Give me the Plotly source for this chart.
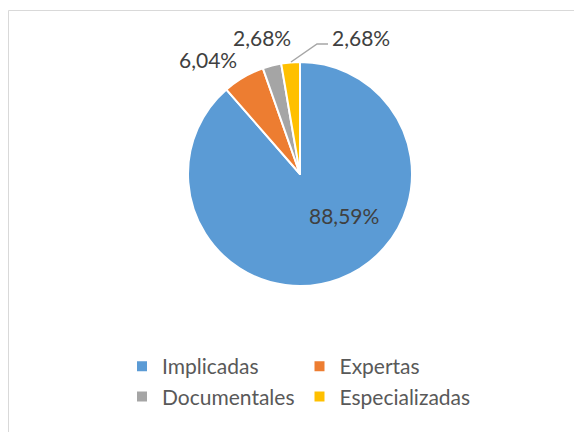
import plotly.graph_objects as go

categories = ["Implicadas", "Expertas", "Documentales", "Especializadas"]
counts = [132, 9, 4, 4]
colors = ["#5B9BD5", "#ED7D31", "#A5A5A5", "#FFC000"]

W, H = 582, 432
OFF = 8  # default page body margin
ML, MR, MT, MB = 100, 100, 0, 0
PW = W - ML - MR
PH = H - MT - MB

def px(x):
    return (x - OFF - ML) / PW

def py(y):
    return 1 - (y - OFF - MT) / PH

total = sum(counts)
pct_text = [f"{c / total * 100:.2f}".replace(".", ",") + "%" for c in counts]

fig = go.Figure(go.Pie(
    labels=categories,
    values=counts,
    sort=False,
    direction="clockwise",
    rotation=0,
    marker=dict(colors=colors, line=dict(color="white", width=2)),
    textinfo="none",
    hoverinfo="label+percent",
    domain=dict(x=[px(188), px(412)], y=[py(286), py(62)]),
))

label_pos = [(344, 215), (208, 60), (262, 38), (361, 38)]
for t, (x, y) in zip(pct_text, label_pos):
    fig.add_annotation(x=px(x), y=py(y), xref="paper", yref="paper", text=t,
                       xanchor="center", yanchor="middle",
                       showarrow=False, font=dict(size=21, color="#404040", family="Lato"))

fig.add_shape(type="path", xref="paper", yref="paper",
              path=f"M{px(291)},{py(62)} L{px(317)},{py(44)} L{px(328)},{py(44)}",
              line=dict(color="#A6A6A6", width=1.5))

fig.add_shape(type="rect", xref="paper", yref="paper",
              x0=px(8.5), x1=px(W + 20), y0=py(H + 20), y1=py(10.5),
              line=dict(color="#D9D9D9", width=1), fillcolor="rgba(0,0,0,0)", layer="below")

fig.update_layout(
    width=W, height=H,
    margin=dict(l=ML, r=MR, t=MT, b=MB),
    paper_bgcolor="white", plot_bgcolor="white",
    separators=",.",
    font=dict(family="Lato", color="#595959"),
    legend=dict(orientation="h", x=px(122), y=py(346), xanchor="left", yanchor="top",
                font=dict(size=21, color="#595959", family="Lato"),
                bgcolor="rgba(0,0,0,0)"),
    showlegend=True,
)

fig.write_html("out.html")
